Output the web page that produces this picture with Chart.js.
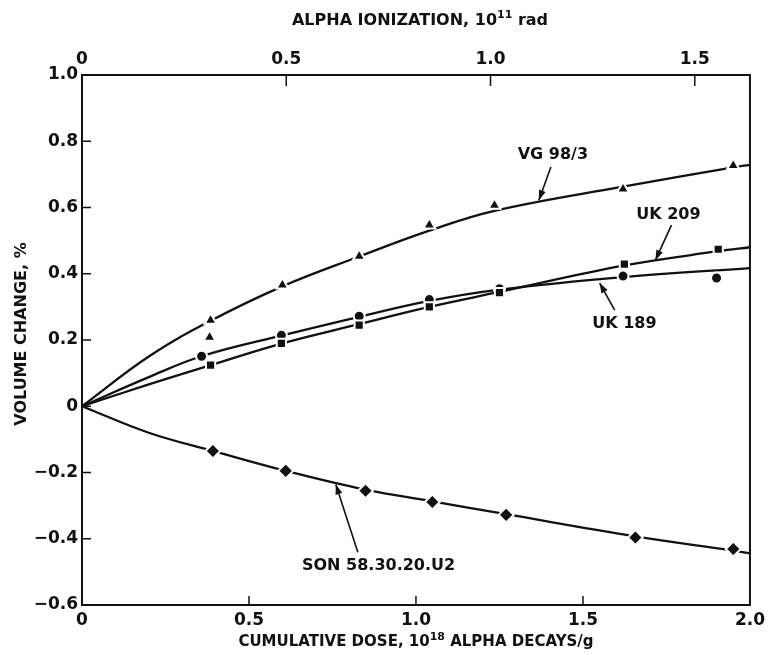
<!DOCTYPE html>
<html>
<head>
<meta charset="utf-8">
<script src="https://cdn.jsdelivr.net/npm/chart.js@4.4.1/dist/chart.umd.min.js"></script>
<style>
  html, body { margin: 0; padding: 0; background: #fff; }
  #wrap { width: 770px; height: 655px; }
</style>
</head>
<body>
<div id="wrap"><canvas id="chart"></canvas></div>
<script>
// values (dose in 1e18 alpha decays/g, volume change in %)

// VG 98/3 - triangles
const vgDose = [0.385, 0.382, 0.60, 0.83, 1.04, 1.235, 1.62, 1.95];
const vgChange = [0.26, 0.208, 0.366, 0.453, 0.547, 0.607, 0.656, 0.727];
const vgCurveDose = [0, 0.2, 0.385, 0.60, 0.83, 1.04, 1.235, 1.62, 1.95, 2.0];
const vgCurveChange = [0, 0.15, 0.258, 0.362, 0.452, 0.53, 0.59, 0.663, 0.721, 0.729];

// UK 209 - squares
const uk209Dose = [0.385, 0.597, 0.83, 1.04, 1.25, 1.624, 1.905];
const uk209Change = [0.124, 0.19, 0.245, 0.30, 0.343, 0.429, 0.474];
const uk209CurveDose = [0, 0.2, 0.385, 0.60, 0.83, 1.04, 1.25, 1.624, 1.905, 2.0];
const uk209CurveChange = [0, 0.066, 0.124, 0.19, 0.248, 0.30, 0.345, 0.425, 0.468, 0.48];

// UK 189 - circles
const uk189Dose = [0.358, 0.597, 0.83, 1.04, 1.25, 1.62, 1.90];
const uk189Change = [0.151, 0.214, 0.272, 0.322, 0.355, 0.393, 0.387];
const uk189CurveDose = [0, 0.2, 0.358, 0.60, 0.83, 1.04, 1.25, 1.62, 2.0];
const uk189CurveChange = [0, 0.088, 0.151, 0.214, 0.27, 0.318, 0.352, 0.39, 0.417];

// SON 58.30.20.U2 - diamonds
const sonDose = [0.392, 0.61, 0.849, 1.049, 1.27, 1.657, 1.95];
const sonChange = [-0.135, -0.195, -0.255, -0.289, -0.328, -0.396, -0.431];
const sonCurveDose = [0, 0.2, 0.392, 0.61, 0.849, 1.049, 1.27, 1.657, 1.95, 2.0];
const sonCurveChange = [0, -0.08, -0.135, -0.195, -0.252, -0.287, -0.326, -0.393, -0.436, -0.444];

// axis ticks
const doseTicks = [0.5, 1.0, 1.5];
const changeTicks = [0.8, 0.6, 0.4, 0.2, 0, -0.2, -0.4];
const ionTicks = [0.5, 1.0, 1.5];
const ionMax = 1.635; // top axis value at dose 2.0

// curve labels with arrows, in data coordinates
const labels = [
    { text: 'VG 98/3', x: 1.41, y: 0.758, from: [1.404, 0.722], to: [1.368, 0.622] },
    { text: 'UK 209', x: 1.756, y: 0.577, from: [1.765, 0.547], to: [1.717, 0.441] },
    { text: 'UK 189', x: 1.624, y: 0.248, from: [1.595, 0.29], to: [1.55, 0.372] },
    { text: 'SON 58.30.20.U2', x: 0.888, y: -0.483, from: [0.826, -0.441], to: [0.76, -0.236] }
];

const FONT = '"DejaVu Sans", "Liberation Sans", sans-serif';
const INK = '#111';

const toPts = (xs, ys) => xs.map((x, i) => ({ x: x, y: ys[i] }));

function markers(xs, ys, style, radius) {
    return {
        type: 'scatter',
        data: toPts(xs, ys),
        pointStyle: style,
        pointRadius: radius,
        pointBackgroundColor: INK,
        pointBorderColor: '#fff',
        pointBorderWidth: 2,
        showLine: false,
        order: 1
    };
}

function curve(xs, ys) {
    return {
        type: 'line',
        data: toPts(xs, ys),
        borderColor: INK,
        borderWidth: 2.3,
        pointRadius: 0,
        tension: 0.4,
        fill: false,
        order: 2
    };
}

function fmtChange(v) {
    if (v === 0) return '0';
    if (v < 0) return '\u2212' + Math.abs(v).toFixed(1);
    return v.toFixed(1);
}

// draws text with one superscript part, centred on (cx, cy)
function drawSupText(ctx, parts, cx, cy, size) {
    const big = 'bold ' + size + 'px ' + FONT;
    const small = 'bold ' + Math.round(size * 0.7) + 'px ' + FONT;
    let total = 0;
    parts.forEach(p => {
        ctx.font = p.sup ? small : big;
        p.w = ctx.measureText(p.t).width;
        total += p.w;
    });
    let x = cx - total / 2;
    ctx.textAlign = 'left';
    ctx.textBaseline = 'middle';
    parts.forEach(p => {
        ctx.font = p.sup ? small : big;
        ctx.fillText(p.t, x, p.sup ? cy - size * 0.35 : cy);
        x += p.w;
    });
}

function arrow(ctx, x1, y1, x2, y2) {
    ctx.beginPath();
    ctx.moveTo(x1, y1);
    ctx.lineTo(x2, y2);
    ctx.stroke();
    const a = Math.atan2(y2 - y1, x2 - x1);
    const len = 10, w = 3.5;
    ctx.beginPath();
    ctx.moveTo(x2, y2);
    ctx.lineTo(x2 - len * Math.cos(a) + w * Math.sin(a), y2 - len * Math.sin(a) - w * Math.cos(a));
    ctx.lineTo(x2 - len * Math.cos(a) - w * Math.sin(a), y2 - len * Math.sin(a) + w * Math.cos(a));
    ctx.closePath();
    ctx.fill();
}

const framePlugin = {
    id: 'frame',
    afterDraw(chart) {
        const ctx = chart.ctx;
        const area = chart.chartArea;
        const xs = chart.scales.x, ys = chart.scales.y, x2 = chart.scales.x2;
        ctx.save();
        ctx.strokeStyle = INK;
        ctx.fillStyle = INK;

        // box
        ctx.lineWidth = 2;
        ctx.strokeRect(area.left, area.top, area.right - area.left, area.bottom - area.top);

        // inward tick marks
        ctx.lineWidth = 1.5;
        ctx.beginPath();
        doseTicks.forEach(v => {
            const px = xs.getPixelForValue(v);
            ctx.moveTo(px, area.bottom);
            ctx.lineTo(px, area.bottom - 9);
        });
        ionTicks.forEach(v => {
            const px = x2.getPixelForValue(v);
            ctx.moveTo(px, area.top);
            ctx.lineTo(px, area.top + 11);
        });
        changeTicks.forEach(v => {
            const py = ys.getPixelForValue(v);
            ctx.moveTo(area.left, py);
            ctx.lineTo(area.left + 9, py);
        });
        ctx.stroke();

        // axis titles
        drawSupText(ctx, [{ t: 'CUMULATIVE DOSE, 10' }, { t: '18', sup: true }, { t: ' ALPHA DECAYS/g' }],
            (area.left + area.right) / 2, 642, 15);
        drawSupText(ctx, [{ t: 'ALPHA IONIZATION, 10' }, { t: '11', sup: true }, { t: ' rad' }],
            420, 21, 16);
        ctx.save();
        ctx.translate(22, 334);
        ctx.rotate(-Math.PI / 2);
        ctx.font = 'bold 16px ' + FONT;
        ctx.textAlign = 'center';
        ctx.textBaseline = 'middle';
        ctx.fillText('VOLUME CHANGE, %', 0, 0);
        ctx.restore();

        // curve labels and arrows
        ctx.lineWidth = 1.6;
        labels.forEach(l => {
            ctx.font = 'bold 16px ' + FONT;
            ctx.textAlign = 'center';
            ctx.textBaseline = 'middle';
            ctx.fillText(l.text, xs.getPixelForValue(l.x), ys.getPixelForValue(l.y));
            arrow(ctx,
                xs.getPixelForValue(l.from[0]), ys.getPixelForValue(l.from[1]),
                xs.getPixelForValue(l.to[0]), ys.getPixelForValue(l.to[1]));
        });
        ctx.restore();
    }
};

const tickFont = { family: FONT, size: 17, weight: 'bold' };

new Chart(document.getElementById('chart'), {
    data: {
        datasets: [
            markers(vgDose, vgChange, 'triangle', 7),
            markers(uk209Dose, uk209Change, 'rect', 6.5),
            markers(uk189Dose, uk189Change, 'circle', 5.5),
            markers(sonDose, sonChange, 'rectRot', 7.5),
            curve(vgCurveDose, vgCurveChange),
            curve(uk209CurveDose, uk209CurveChange),
            curve(uk189CurveDose, uk189CurveChange),
            curve(sonCurveDose, sonCurveChange)
        ]
    },
    options: {
        responsive: true,
        maintainAspectRatio: false,
        animation: false,
        layout: { padding: { left: 0, right: 17, top: 0, bottom: 0 } },
        plugins: {
            legend: { display: false },
            tooltip: { enabled: false }
        },
        scales: {
            x: {
                type: 'linear',
                position: 'bottom',
                min: 0,
                max: 2.0,
                afterFit: s => { s.height = 50; },
                afterBuildTicks: s => { s.ticks = [0, 0.5, 1.0, 1.5, 2.0].map(v => ({ value: v })); },
                grid: { display: false, drawTicks: false },
                border: { display: false },
                ticks: {
                    color: INK,
                    font: tickFont,
                    padding: 5,
                    maxRotation: 0,
                    callback: v => (v === 0 ? '0' : v.toFixed(1))
                }
            },
            x2: {
                type: 'linear',
                position: 'top',
                min: 0,
                max: ionMax,
                afterFit: s => { s.height = 75; },
                afterBuildTicks: s => { s.ticks = [0, 0.5, 1.0, 1.5].map(v => ({ value: v })); },
                grid: { display: false, drawTicks: false },
                border: { display: false },
                ticks: {
                    color: INK,
                    font: tickFont,
                    padding: 5,
                    maxRotation: 0,
                    callback: v => (v === 0 ? '0' : v.toFixed(1))
                }
            },
            y: {
                type: 'linear',
                position: 'left',
                min: -0.6,
                max: 1.0,
                afterFit: s => { s.width = 82; },
                afterBuildTicks: s => { s.ticks = [1.0, 0.8, 0.6, 0.4, 0.2, 0, -0.2, -0.4, -0.6].map(v => ({ value: v })); },
                grid: { display: false, drawTicks: false },
                border: { display: false },
                ticks: {
                    color: INK,
                    font: tickFont,
                    padding: 4,
                    callback: fmtChange
                }
            }
        }
    },
    plugins: [framePlugin]
});
</script>
</body>
</html>
